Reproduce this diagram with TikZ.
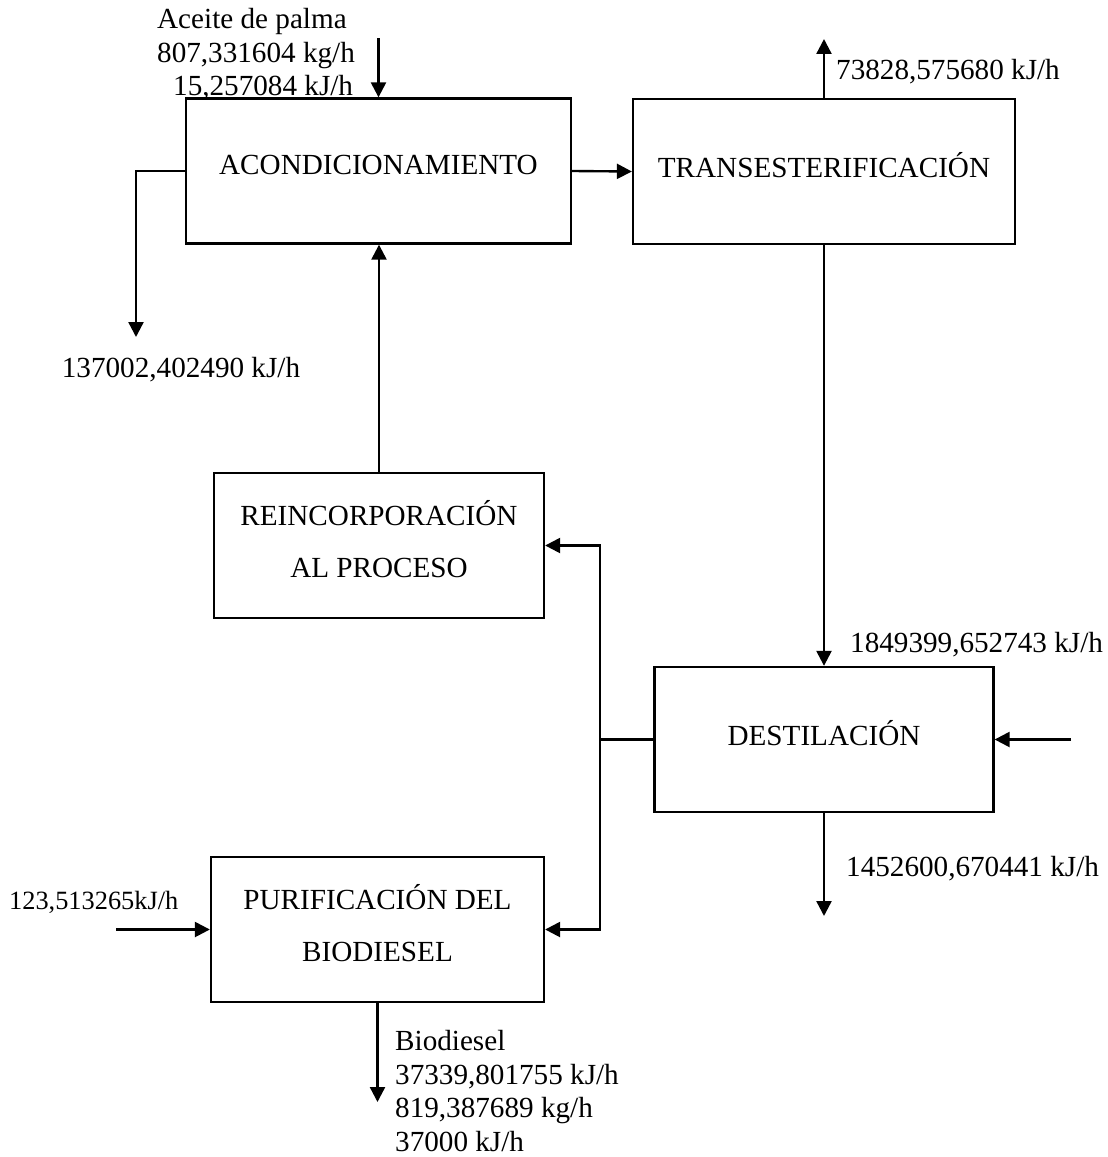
\documentclass[tikz,border=0pt]{standalone}
\usepackage{fontspec}
\setmainfont{Liberation Serif}
\usetikzlibrary{arrows.meta}

\begin{document}
\begin{tikzpicture}[x=0.02cm, y=-0.02cm, line width=1.35pt,
  font=\fontsize{16.6pt}{19.2pt}\selectfont,
  box/.style={draw, rectangle, minimum height=2.9cm, align=center, text depth=7pt,
    font=\fontsize{16.6pt}{29.5pt}\selectfont},
  flow/.style={-{Triangle[length=8.5pt,width=8.5pt]}},
  lbl/.style={inner sep=0pt, align=left}]
\useasboundingbox (0,0) rectangle (1108,1157);

\node[box, minimum width=7.7cm] (ac) at (378.5,171) {ACONDICIONAMIENTO};
\node[box, minimum width=7.64cm] (tr) at (824,171.5) {TRANSESTERIFICACIÓN};
\node[box, minimum width=6.6cm] (re) at (379,545.5) {REINCORPORACIÓN\\AL PROCESO};
\node[box, minimum width=6.78cm] (de) at (824,739.5) {DESTILACIÓN};
\node[box, minimum width=6.66cm] (pu) at (377.5,929.5) {PURIFICACIÓN DEL\\BIODIESEL};

\coordinate (ain) at (378.5,38);
\coordinate (tout) at (824,39);
\coordinate (lout) at (136,337);
\coordinate (din) at (1071,739.5);
\coordinate (dout) at (824,916);
\coordinate (j) at (600,739.5);
\coordinate (pin) at (116,929.5);
\coordinate (bout) at (377.5,1102);

\draw[flow] (ain) -- (ac.north);
\draw[flow] (ac.west) -| (lout);
\draw[flow] (ac.east) -- (tr.west);
\draw[flow] (tr.north) -- (tout);
\draw[flow] (tr.south) -- (de.north);
\draw[flow] (din) -- (de.east);
\draw[flow] (de.south) -- (dout);
\draw (de.west) -- (j);
\draw[flow] (j) |- (re.east);
\draw[flow] (j) |- (pu.east);
\draw[flow] (re.north) -- (re.north |- ac.south);
\draw[flow] (pin) -- (pu.west);
\draw[flow] (pu.south) -- (bout);

\node[lbl, anchor=north west] (aceite) at (156,7) {Aceite de palma\\807,331604 kg/h\\\hspace*{0.32cm}15,257084 kJ/h};
\node[lbl, anchor=base west] (q1) at (835,79) {73828,575680 kJ/h};
\node[lbl, anchor=base] (q2) at (181,377) {137002,402490 kJ/h};
\node[lbl, anchor=base west] (q3) at (849,652) {1849399,652743 kJ/h};
\node[lbl, anchor=base west] (q4) at (845,876) {1452600,670441 kJ/h};
\node[lbl, anchor=base west, font=\fontsize{15pt}{18pt}\selectfont] (q5) at (8,909) {123,513265kJ/h};
\node[lbl, anchor=south west] (bio) at (394,1153) {Biodiesel\\37339,801755 kJ/h\\819,387689 kg/h\\37000 kJ/h};
\end{tikzpicture}
\end{document}
